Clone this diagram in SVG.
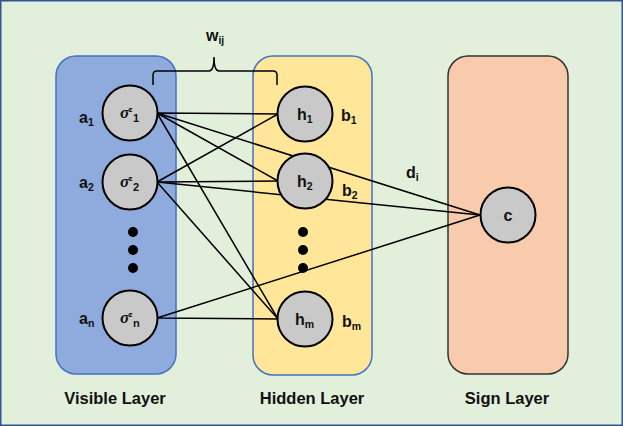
<svg xmlns="http://www.w3.org/2000/svg" width="623" height="426" viewBox="0 0 623 426">
<style>
.node{fill:#C9C9C9;stroke:#000;stroke-width:2}
.lbl{font-family:"Liberation Sans",Arial,sans-serif;font-weight:bold;font-size:16px;fill:#111}
.sub{font-size:10.5px}
.ttl{font-family:"Liberation Sans",Arial,sans-serif;font-weight:bold;font-size:16.5px;fill:#111;text-anchor:middle}
.sig{font-family:"Liberation Serif","Times New Roman",serif;font-style:italic;font-weight:bold;font-size:17px;fill:#111}
.sup{font-family:"Liberation Sans",Arial,sans-serif;font-size:8px;fill:#111;font-weight:bold}
.ssub{font-family:"Liberation Sans",Arial,sans-serif;font-size:11px;fill:#111;font-weight:bold}
.edge{stroke:#000;stroke-width:1.5;fill:none}
</style>
<rect x="0.75" y="0.75" width="621.5" height="424.5" fill="#E2EFDA" stroke="#2F5597" stroke-width="1.5"/>
<g id="visible-layer">
<rect x="56" y="56" width="120" height="318" rx="20" fill="#8FAADC" stroke="#4472C4" stroke-width="1.5"/>
<text class="ttl" x="115" y="404">Visible Layer</text>
<circle cx="133" cy="232" r="5"/><circle cx="133" cy="250" r="5"/><circle cx="133" cy="268" r="5"/>
</g>
<g id="hidden-layer">
<rect x="253" y="56" width="119" height="319" rx="20" fill="#FFE699" stroke="#4472C4" stroke-width="1.5"/>
<text class="ttl" x="312" y="404">Hidden Layer</text>
<circle cx="303" cy="232" r="5"/><circle cx="303" cy="250" r="5"/><circle cx="303" cy="268" r="5"/>
</g>
<g id="sign-layer">
<rect x="448" y="56" width="120" height="318" rx="20" fill="#F8CBAD" stroke="#333" stroke-width="1.5"/>
<text class="ttl" x="507" y="404">Sign Layer</text>
</g>
<g id="connectors">
<path class="edge" d="M157 113L278 114M157 113L278 181M157 113L278 319M157 113L480 215"/>
<path class="edge" d="M157 182L278 114M157 182L278 181M157 182L278 319M157 182L480 215"/>
<path class="edge" d="M157 318L278 319M157 318L480 215"/>
<path class="edge" d="M153 85V75Q153 71 157 71H209Q214 71 214 57Q214 71 219 71H273Q277 71 277 75V85"/>
<text class="lbl" x="206" y="41">w<tspan class="sub" dy="3">ij</tspan></text>
<text class="lbl" x="406" y="178">d<tspan class="sub" dy="3">i</tspan></text>
</g>
<g id="v1">
<circle class="node" cx="130" cy="113" r="27.5"/>
<text class="sig" x="120" y="118">σ</text><text class="sup" x="128.5" y="112">z</text><text class="ssub" x="133" y="122">1</text>
<text class="lbl" x="79" y="123">a<tspan class="sub" dy="3">1</tspan></text>
</g>
<g id="v2">
<circle class="node" cx="130" cy="182" r="27.5"/>
<text class="sig" x="120" y="187">σ</text><text class="sup" x="128.5" y="181">z</text><text class="ssub" x="133" y="191">2</text>
<text class="lbl" x="79" y="188">a<tspan class="sub" dy="3">2</tspan></text>
</g>
<g id="vn">
<circle class="node" cx="130" cy="318" r="27.5"/>
<text class="sig" x="120" y="323">σ</text><text class="sup" x="128.5" y="317">z</text><text class="ssub" x="133" y="327">n</text>
<text class="lbl" x="79" y="324">a<tspan class="sub" dy="3">n</tspan></text>
</g>
<g id="h1">
<circle class="node" cx="305" cy="114" r="27.5"/>
<text class="lbl" x="297" y="120">h<tspan class="sub" dy="3">1</tspan></text>
<text class="lbl" x="341" y="121">b<tspan class="sub" dy="3">1</tspan></text>
</g>
<g id="h2">
<circle class="node" cx="305" cy="181" r="27.5"/>
<text class="lbl" x="297" y="187">h<tspan class="sub" dy="3">2</tspan></text>
<text class="lbl" x="342" y="196">b<tspan class="sub" dy="3">2</tspan></text>
</g>
<g id="hm">
<circle class="node" cx="305" cy="319" r="27.5"/>
<text class="lbl" x="295" y="325">h<tspan class="sub" dy="3">m</tspan></text>
<text class="lbl" x="342" y="327">b<tspan class="sub" dy="3">m</tspan></text>
</g>
<g id="c">
<circle class="node" cx="508" cy="215" r="27.5"/>
<text class="lbl" x="508" y="221" text-anchor="middle">c</text>
</g>
</svg>
